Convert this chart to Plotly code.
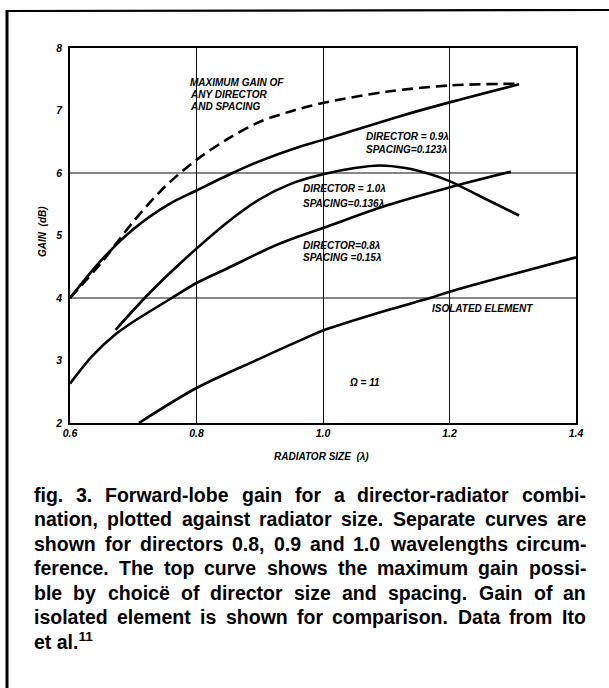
import plotly.graph_objects as go

# ---------------- data ----------------
x_ticks = [0.6, 0.8, 1.0, 1.2, 1.4]
x_tick_labels = ["0.6", "0.8", "1.0", "1.2", "1.4"]
y_ticks = [2, 3, 4, 5, 6, 7, 8]
y_tick_labels = ["2", "3", "4", "5", "6", "7", "8"]
y_grid = [4, 6]

max_gain_x = [0.60, 0.65, 0.70, 0.75, 0.80, 0.85, 0.90, 0.95, 1.00, 1.10, 1.20, 1.31]
max_gain_y = [4.00, 4.57, 5.22, 5.78, 6.21, 6.55, 6.82, 6.99, 7.12, 7.30, 7.40, 7.43]

dir09_x = [0.60, 0.65, 0.70, 0.758, 0.80, 0.857, 0.90, 0.963, 1.00, 1.122, 1.20, 1.31]
dir09_y = [4.00, 4.61, 5.10, 5.51, 5.72, 6.00, 6.19, 6.42, 6.53, 6.91, 7.13, 7.42]

dir10_x = [0.672, 0.72, 0.76, 0.80, 0.85, 0.90, 0.95, 1.00, 1.05, 1.09, 1.13, 1.17, 1.20, 1.25, 1.31]
dir10_y = [3.49, 4.02, 4.42, 4.79, 5.22, 5.58, 5.83, 5.98, 6.08, 6.12, 6.08, 5.98, 5.87, 5.62, 5.32]

dir08_x = [0.60, 0.635, 0.672, 0.70, 0.761, 0.80, 0.85, 0.92, 0.963, 1.00, 1.10, 1.20, 1.297]
dir08_y = [2.63, 3.07, 3.42, 3.62, 4.00, 4.24, 4.48, 4.82, 4.99, 5.12, 5.48, 5.77, 6.02]

iso_x = [0.709, 0.80, 0.90, 0.979, 1.00, 1.10, 1.169, 1.20, 1.30, 1.40]
iso_y = [2.00, 2.56, 3.03, 3.39, 3.48, 3.80, 4.00, 4.10, 4.38, 4.65]

caption_lines = [
    "fig. 3. Forward-lobe gain for a director-radiator combi-",
    "nation, plotted against radiator size. Separate curves are",
    "shown for directors 0.8, 0.9 and 1.0 wavelengths circum-",
    "ference. The top curve shows the maximum gain possi-",
    "ble by choicë of director size and spacing. Gain of an",
    "isolated element is shown for comparison. Data from Ito",
    "et al.<sup>11</sup>",
]

# ---------------- figure ----------------
W, H = 609, 688
ML, MR, MT, MB = 70, 33, 48, 265
PW, PH = W - ML - MR, H - MT - MB

def px2paper_x(px):
    return (px - ML) / PW

def py2paper_y(py):
    return (H - MB - py) / PH

fig = go.Figure()

series = [
    (max_gain_x, max_gain_y, "11px,6px"),
    (dir09_x, dir09_y, "solid"),
    (dir10_x, dir10_y, "solid"),
    (dir08_x, dir08_y, "solid"),
    (iso_x, iso_y, "solid"),
]
for xs, ys, dash in series:
    fig.add_trace(go.Scatter(
        x=xs, y=ys, mode="lines",
        line=dict(color="black", width=2.6, shape="spline", smoothing=0.9, dash=dash),
        hoverinfo="skip",
    ))

for g in y_grid:
    fig.add_shape(type="line", xref="paper", yref="y", x0=0, x1=1, y0=g, y1=g,
                  line=dict(color="#111", width=1.2), layer="below")

label_font = dict(family="Liberation Sans", size=10, color="black", weight="bold", style="italic")
tick_font = dict(family="Liberation Sans", size=10.5, color="black", weight="bold", style="italic")

fig.update_layout(
    width=W, height=H,
    margin=dict(l=ML, r=MR, t=MT, b=MB),
    paper_bgcolor="white", plot_bgcolor="white",
    showlegend=False,
    xaxis=dict(range=[0.6, 1.4], tickvals=x_ticks, ticktext=x_tick_labels,
               showgrid=True, gridcolor="#111", gridwidth=1.2,
               showline=True, mirror=True, linecolor="black", linewidth=1.6,
               zeroline=False, ticks="", tickfont=tick_font, fixedrange=True),
    yaxis=dict(range=[2, 8], tickvals=y_ticks, ticktext=y_tick_labels,
               showgrid=False, showline=True, mirror=True, linecolor="black",
               linewidth=1.6, zeroline=False, ticks="", tickfont=tick_font,
               ticklabelstandoff=4, fixedrange=True),
)

# curve labels (data coords)
curve_labels = [
    ("MAXIMUM GAIN OF", 0.788, 7.445),
    ("ANY DIRECTOR", 0.788, 7.255),
    ("AND SPACING", 0.788, 7.06),
    ("DIRECTOR = 0.9λ", 1.066, 6.580),
    ("SPACING=0.123λ", 1.066, 6.384),
    ("DIRECTOR = 1.0λ", 0.966, 5.745),
    ("SPACING=0.136λ", 0.966, 5.520),
    ("DIRECTOR=0.8λ", 0.967, 4.840),
    ("SPACING =0.15λ", 0.967, 4.645),
    ("ISOLATED ELEMENT", 1.171, 3.835),
    ("Ω = 11", 1.040, 2.645),
]
for t, x, y in curve_labels:
    fig.add_annotation(text=t, x=x, y=y, xref="x", yref="y", xanchor="left",
                       yanchor="middle", showarrow=False, font=label_font, borderpad=0)

# axis titles
fig.add_annotation(text="GAIN  (dB)", x=px2paper_x(42), y=py2paper_y(232), xref="paper",
                   yref="paper", textangle=-90, xanchor="center", yanchor="middle",
                   showarrow=False, font=dict(label_font, size=10))
fig.add_annotation(text="RADIATOR SIZE  (λ)", x=px2paper_x(321), y=py2paper_y(456),
                   xref="paper", yref="paper", xanchor="center", yanchor="middle",
                   showarrow=False, font=dict(label_font, size=10))

# outer frame (partial border of the scanned page)
fig.add_shape(type="line", xref="paper", yref="paper", x0=px2paper_x(6), x1=px2paper_x(612),
              y0=py2paper_y(11), y1=py2paper_y(10), line=dict(color="black", width=2.2))
fig.add_shape(type="line", xref="paper", yref="paper", x0=px2paper_x(7), x1=px2paper_x(7),
              y0=py2paper_y(10), y1=py2paper_y(692), line=dict(color="black", width=3))

# caption, justified word by word (Helvetica-Bold metrics)
WID = {' ': 278, ',': 278, '-': 333, '.': 278}
for c in "0123456789":
    WID[c] = 556
WID.update(dict(A=722, B=722, C=722, D=722, E=667, F=611, G=778, H=722, I=278, J=556, K=722,
                L=611, M=833, N=722, O=778, P=667, Q=778, R=722, S=667, T=611, U=722, V=667,
                W=944, X=667, Y=667, Z=611))
WID.update(dict(a=556, b=611, c=556, d=611, e=556, f=333, g=611, h=611, i=278, j=278, k=556,
                l=278, m=889, n=611, o=611, p=611, q=611, r=389, s=556, t=333, u=611, v=556,
                w=778, x=556, y=556, z=500))
WID['ë'] = 556

cap_size = 19.5
cap_font = dict(family="Liberation Sans", size=cap_size, color="black", weight="bold")
cap_left, cap_right = 33, 585
line_y = [495, 519.4, 543.8, 568.2, 592.6, 617, 641.4]

def tw(s):
    return sum(WID.get(ch, 556) for ch in s) / 1000 * cap_size

for i, line in enumerate(caption_lines):
    if i == len(caption_lines) - 1:
        fig.add_annotation(text=line, x=px2paper_x(cap_left), y=py2paper_y(line_y[i]),
                           xref="paper", yref="paper", xanchor="left", yanchor="middle",
                           showarrow=False, font=cap_font, borderpad=0)
        continue
    words = line.split(" ")
    total = sum(tw(w) for w in words)
    gap = (cap_right - cap_left - total) / (len(words) - 1)
    xpos = cap_left
    for w in words:
        fig.add_annotation(text=w, x=px2paper_x(xpos), y=py2paper_y(line_y[i]),
                           xref="paper", yref="paper", xanchor="left", yanchor="middle",
                           showarrow=False, font=cap_font, borderpad=0)
        xpos += tw(w) + gap

fig.write_html("out.html", config={"displayModeBar": False},
               post_script="document.body.style.margin='0px';")
